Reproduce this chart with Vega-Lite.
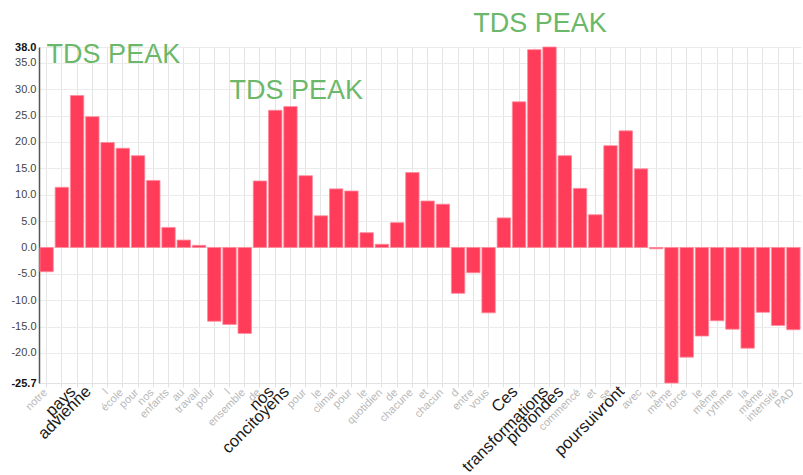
{
  "$schema": "https://vega.github.io/schema/vega-lite/v6.json",
  "width": 762,
  "height": 336,
  "autosize": {"type": "none"},
  "padding": {"left": 39, "top": 47, "right": 2, "bottom": 92},
  "background": "white",
  "config": {
    "view": {"stroke": null},
    "font": "Liberation Sans",
    "axisY": {"labelOverlap": false, "labelFlush": false}
  },
  "resolve": {"scale": {"y": "shared"}, "axis": {"y": "independent"}},
  "datasets": {
    "words": [
      {"i": 1, "word": "notre", "value": -4.6, "key": false},
      {"i": 2, "word": "", "value": 11.4, "key": false},
      {"i": 3, "word": "pays", "value": 28.8, "key": true},
      {"i": 4, "word": "advienne", "value": 24.8, "key": true},
      {"i": 5, "word": "l", "value": 19.9, "key": false},
      {"i": 6, "word": "école", "value": 18.8, "key": false},
      {"i": 7, "word": "pour", "value": 17.4, "key": false},
      {"i": 8, "word": "nos", "value": 12.7, "key": false},
      {"i": 9, "word": "enfants", "value": 3.8, "key": false},
      {"i": 10, "word": "au", "value": 1.4, "key": false},
      {"i": 11, "word": "travail", "value": 0.4, "key": false},
      {"i": 12, "word": "pour", "value": -14.0, "key": false},
      {"i": 13, "word": "l", "value": -14.6, "key": false},
      {"i": 14, "word": "ensemble", "value": -16.3, "key": false},
      {"i": 15, "word": "de", "value": 12.6, "key": false},
      {"i": 16, "word": "nos", "value": 26.0, "key": true},
      {"i": 17, "word": "concitoyens", "value": 26.7, "key": true},
      {"i": 18, "word": "pour", "value": 13.6, "key": false},
      {"i": 19, "word": "le", "value": 6.0, "key": false},
      {"i": 20, "word": "climat", "value": 11.1, "key": false},
      {"i": 21, "word": "pour", "value": 10.7, "key": false},
      {"i": 22, "word": "le", "value": 2.8, "key": false},
      {"i": 23, "word": "quotidien", "value": 0.6, "key": false},
      {"i": 24, "word": "de", "value": 4.7, "key": false},
      {"i": 25, "word": "chacune", "value": 14.2, "key": false},
      {"i": 26, "word": "et", "value": 8.8, "key": false},
      {"i": 27, "word": "chacun", "value": 8.2, "key": false},
      {"i": 28, "word": "d", "value": -8.7, "key": false},
      {"i": 29, "word": "entre", "value": -4.8, "key": false},
      {"i": 30, "word": "vous", "value": -12.4, "key": false},
      {"i": 31, "word": "", "value": 5.6, "key": false},
      {"i": 32, "word": "Ces", "value": 27.6, "key": true},
      {"i": 33, "word": "", "value": 37.5, "key": false},
      {"i": 34, "word": "transformations", "value": 38.0, "key": true},
      {"i": 35, "word": "profondes", "value": 17.4, "key": true},
      {"i": 36, "word": "commencé", "value": 11.2, "key": false},
      {"i": 37, "word": "et", "value": 6.2, "key": false},
      {"i": 38, "word": "se", "value": 19.3, "key": false},
      {"i": 39, "word": "poursuivront", "value": 22.1, "key": true},
      {"i": 40, "word": "avec", "value": 14.9, "key": false},
      {"i": 41, "word": "la", "value": -0.25, "key": false},
      {"i": 42, "word": "même", "value": -25.7, "key": false},
      {"i": 43, "word": "force", "value": -20.8, "key": false},
      {"i": 44, "word": "le", "value": -16.8, "key": false},
      {"i": 45, "word": "même", "value": -13.9, "key": false},
      {"i": 46, "word": "rythme", "value": -15.5, "key": false},
      {"i": 47, "word": "la", "value": -19.1, "key": false},
      {"i": 48, "word": "même", "value": -12.3, "key": false},
      {"i": 49, "word": "intensité", "value": -14.8, "key": false},
      {"i": 50, "word": "PAD", "value": -15.6, "key": false}
    ],
    "notes": [
      {"i": 1, "value": 35.05, "label": "TDS PEAK"},
      {"i": 13, "value": 28.2, "label": "TDS PEAK"},
      {"i": 29, "value": 40.9, "label": "TDS PEAK"}
    ]
  },
  "encoding": {
    "x": {
      "field": "i",
      "type": "ordinal",
      "title": null,
      "scale": {"paddingInner": 0.12, "paddingOuter": 0.06},
      "axis": {
        "labels": false,
        "ticks": true,
        "tickSize": 4,
        "tickColor": "#e2e2e2",
        "domain": true,
        "domainColor": "#e2e2e2",
        "grid": true,
        "gridColor": "#e4e4e4",
        "gridWidth": 1
      }
    }
  },
  "layer": [
    {
      "data": {"name": "words"},
      "mark": {"type": "bar", "fill": "#ff3d5a", "stroke": "#ff8a9c", "strokeWidth": 0.8},
      "encoding": {
        "y": {
          "field": "value",
          "type": "quantitative",
          "title": null,
          "scale": {"domain": [-25.7, 38], "nice": false, "zero": false},
          "axis": {
            "orient": "left",
            "values": [-25.7, -20, -15, -10, -5, 0, 5, 10, 15, 20, 25, 30, 35, 38],
            "labelExpr": "replace(format(datum.value, '.1f'), '\u2212', '-')",
            "ticks": false,
            "labelPadding": 3,
            "labelFontSize": 11,
            "labelOverlap": false,
            "labelFlush": false,
            "labelColor": {"condition": {"test": "datum.value == 38 || datum.value == -25.7", "value": "#111111"}, "value": "#444444"},
            "labelFontWeight": {"condition": {"test": "datum.value == 38 || datum.value == -25.7", "value": "bold"}, "value": "normal"},
            "domain": true,
            "domainColor": "#555555",
            "domainWidth": 1.5,
            "grid": true,
            "gridColor": "#ebebeb",
            "gridWidth": 1
          }
        }
      }
    },
    {
      "data": {"name": "words"},
      "transform": [{"filter": "!datum.key"}],
      "mark": {"type": "text", "angle": 315, "align": "right", "baseline": "middle", "dx": -6.36, "dy": 4.95, "fontSize": 11, "color": "#b8b8b8"},
      "encoding": {
        "y": {"datum": -25.7, "axis": null},
        "text": {"field": "word"}
      }
    },
    {
      "data": {"name": "words"},
      "transform": [{"filter": "datum.key"}],
      "mark": {"type": "text", "angle": 315, "align": "right", "baseline": "middle", "dx": -7.07, "dy": 1.5, "fontSize": 16.5, "color": "#1a1a1a"},
      "encoding": {
        "y": {"datum": -25.7, "axis": null},
        "text": {"field": "word"}
      }
    },
    {
      "data": {"name": "notes"},
      "mark": {"type": "text", "align": "left", "baseline": "alphabetic", "fontSize": 27, "color": "#6cb86a"},
      "encoding": {
        "y": {"field": "value", "type": "quantitative", "axis": null},
        "text": {"field": "label"}
      }
    }
  ]
}
